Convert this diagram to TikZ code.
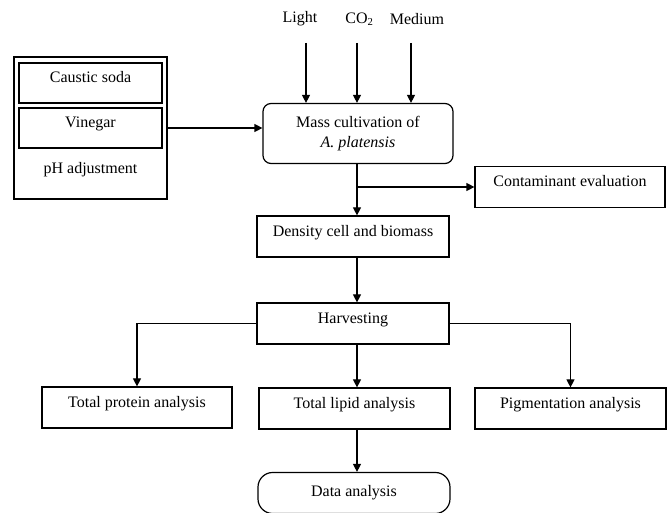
\documentclass[tikz,border=0pt]{standalone}
\usepackage{fontspec}
\setmainfont{Liberation Serif}
\usetikzlibrary{arrows.meta, positioning}
\tikzstyle{flow}=[x=0.75pt, y=-0.75pt, line width=0.9pt, >={Triangle[length=6pt,width=6pt]}, font=\fontsize{12}{15.5}\selectfont]
\tikzstyle{block}=[draw, rectangle, inner sep=0pt, align=center, minimum width=142.5pt, minimum height=30.75pt]
\tikzstyle{lifted}=[text height=9pt, text depth=9.5pt]

\begin{document}
\begin{tikzpicture}[flow]
            \useasboundingbox (0,0) rectangle (672,513);

            % inputs
            \node (light)  at (300,19)   {Light};
            \node (co2)    at (359.5,19) {CO\textsubscript{2}};
            \node (medium) at (417,19)   {Medium};
            \coordinate (lt) at (306,43);
            \coordinate (ct) at (357,43);
            \coordinate (mt) at (411,43);

            % pH adjustment
            \node[block, minimum width=114.75pt, minimum height=106.5pt] (ph) at (90.5,128) {};
            \node[block, lifted, minimum width=107.25pt, minimum height=30pt] (soda)    at (90.5,83)  {Caustic soda};
            \node[block, lifted, minimum width=107.25pt, minimum height=30pt] (vinegar) at (90.5,128) {Vinegar};
            \node (phtext) at (90.5,170) {pH adjustment};

            % main line
            \node[block, rounded corners=6pt, minimum height=45pt] (mass) at (358,133.5)
                 {Mass cultivation of\\\textit{A. platensis}};
            \node[block, lifted] (contam)  at (570,187)   {Contaminant evaluation};
            \node[block, lifted, minimum width=144pt] (density) at (353,236.5) {Density cell and biomass};
            \node[block, lifted, minimum width=144pt] (harvest) at (353,323.5) {Harvesting};
            \node[block, lifted] (protein) at (137,407.5)   {Total protein analysis};
            \node[block, lifted, minimum width=143.25pt] (lipid)   at (354.5,408.5) {Total lipid analysis};
            \node[block, lifted, minimum width=143.25pt] (pigment) at (570.5,408.5) {Pigmentation analysis};
            \node[block, rounded corners=11pt, minimum width=144pt] (data) at (354,493) {Data analysis};

            \path[->]
              (lt) edge (lt |- mass.north)
              (ct) edge (ct |- mass.north)
              (mt) edge (mt |- mass.north)
              (ph.east) edge (ph.east -| mass.west)
              (ct |- mass.south) edge (ct |- density.north)
              (ct |- contam.west) edge (contam.west)
              (ct |- density.south) edge (ct |- harvest.north)
              (ct |- harvest.south) edge (ct |- lipid.north)
              (ct |- lipid.south) edge (ct |- data.north);
            \draw[->] (harvest.west) -| (protein.north);
            \draw[->] (harvest.east) -| (pigment.north);
          \end{tikzpicture}
\end{document}
